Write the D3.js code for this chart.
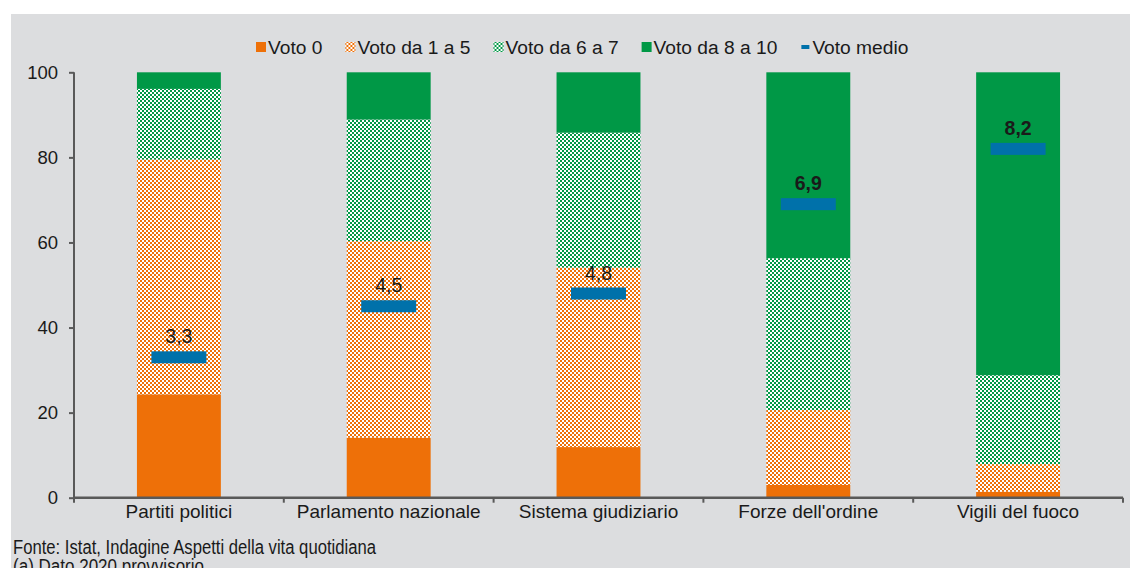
<!DOCTYPE html>
<html>
<head>
<meta charset="utf-8">
<script src="https://cdn.jsdelivr.net/npm/d3@7"></script>
<style>
  html, body { margin: 0; padding: 0; background: #ffffff; }
  svg { display: block; }
  text { font-family: "Liberation Sans", Arial, sans-serif; fill: #1a1a1a; }
</style>
</head>
<body>
<svg id="chart" width="1130" height="568"></svg>
<script>
// Fiducia nelle istituzioni: distribuzione dei voti (%) e voto medio
const categories = ["Partiti politici", "Parlamento nazionale", "Sistema giudiziario", "Forze dell'ordine", "Vigili del fuoco"];
const voto0      = [24.3, 14.1, 11.9, 3.0, 1.4];
const voto1a5    = [55.2, 46.2, 42.2, 17.6, 6.5];
const voto6a7    = [16.6, 28.6, 31.7, 35.7, 20.9];
const voto8a10   = [3.9, 11.1, 14.2, 43.7, 71.2];
const votoMedio  = [3.3, 4.5, 4.8, 6.9, 8.2];
const medioBold  = [false, false, false, true, true];
const yTicks     = [0, 20, 40, 60, 80, 100];
const seriesNames = ["Voto 0", "Voto da 1 a 5", "Voto da 6 a 7", "Voto da 8 a 10", "Voto medio"];
const footnotes  = ["Fonte: Istat, Indagine Aspetti della vita quotidiana", "(a) Dato 2020 provvisorio"];
const footWidths = [363, 191];

const ORANGE = "#ee7008", GREEN = "#009846", BLUE = "#0071aa", AXIS = "#595959";

const svg = d3.select("#chart");

// panel background
svg.append("rect").attr("x", 11).attr("y", 14).attr("width", 1119).attr("height", 554).attr("fill", "#dcdddf");

// checkered fills
const defs = svg.append("defs");
function checker(id, color) {
  const p = defs.append("pattern").attr("id", id).attr("patternUnits", "userSpaceOnUse")
    .attr("width", 4).attr("height", 4);
  p.append("rect").attr("width", 4).attr("height", 4).attr("fill", "#ffffff");
  p.append("rect").attr("x", 0).attr("y", 0).attr("width", 2).attr("height", 2).attr("fill", color);
  p.append("rect").attr("x", 2).attr("y", 2).attr("width", 2).attr("height", 2).attr("fill", color);
}
checker("chkOrange", ORANGE);
checker("chkGreen", GREEN);

const fills = [ORANGE, "url(#chkOrange)", "url(#chkGreen)", GREEN];

const x = d3.scaleBand().domain(categories).range([74, 1123]).paddingInner(0.6).paddingOuter(0.3);
const y = d3.scaleLinear().domain([0, 100]).range([497.7, 72.3]);

// stacked data
const rows = categories.map((c, i) => ({ cat: c, s0: voto0[i], s1: voto1a5[i], s2: voto6a7[i], s3: voto8a10[i] }));
const stack = d3.stack().keys(["s0", "s1", "s2", "s3"])(rows);

const layers = svg.append("g").selectAll("g").data(stack).join("g").attr("fill", (d, i) => fills[i]);
layers.selectAll("rect").data(d => d).join("rect")
  .attr("x", d => x(d.data.cat))
  .attr("width", x.bandwidth())
  .attr("y", d => y(d[1]))
  .attr("height", d => y(d[0]) - y(d[1]));

// y axis
const yAxis = svg.append("g").attr("transform", "translate(74,0)")
  .call(d3.axisLeft(y).tickValues(yTicks).tickSize(5).tickPadding(11).tickFormat(d3.format("d")));
yAxis.select(".domain").attr("stroke", AXIS).attr("stroke-width", 2).attr("d", "M0,72.3V502");
yAxis.selectAll(".tick line").attr("stroke", AXIS).attr("stroke-width", 2);
yAxis.selectAll(".tick text").attr("font-size", 18.5).attr("fill", "#1a1a1a")
  .attr("font-family", "'Liberation Sans', Arial, sans-serif");

// x axis with ticks at category boundaries
const xg = svg.append("g").attr("transform", "translate(0,497.7)");
xg.append("line").attr("x1", 74).attr("x2", 1123).attr("stroke", AXIS).attr("stroke-width", 2.5);
const step = x.step();
const x0 = x(categories[0]) - x.paddingOuter() * step;
xg.selectAll("line.tk").data(d3.range(categories.length + 1)).join("line").attr("class", "tk")
  .attr("x1", i => x0 + i * step).attr("x2", i => x0 + i * step)
  .attr("y1", 0).attr("y2", 5).attr("stroke", AXIS).attr("stroke-width", 2);
xg.selectAll("text").data(categories).join("text")
  .attr("x", d => x(d) + x.bandwidth() / 2).attr("y", 20.5)
  .attr("text-anchor", "middle").attr("font-size", 19).text(d => d);

// voto medio markers (scaled to 0-100)
const mw = 55, mh = 12;
const med = svg.append("g");
med.selectAll("rect").data(categories).join("rect")
  .attr("x", d => x(d) + x.bandwidth() / 2 - mw / 2)
  .attr("y", (d, i) => y(votoMedio[i] * 10) - mh / 2)
  .attr("width", mw).attr("height", mh).attr("fill", BLUE);
med.selectAll("text").data(categories).join("text")
  .attr("x", d => x(d) + x.bandwidth() / 2)
  .attr("y", (d, i) => y(votoMedio[i] * 10) - mh / 2 - 8)
  .attr("text-anchor", "middle").attr("font-size", 19.5)
  .attr("font-weight", (d, i) => medioBold[i] ? "bold" : "normal")
  .text((d, i) => d3.format(".1f")(votoMedio[i]).replace(".", ","));

// legend
const lg = svg.append("g").attr("transform", "translate(0,47)");
const items = lg.selectAll("g").data(seriesNames).join("g");
items.append("text").attr("font-size", 19.2).attr("dy", "0.35em").text(d => d);
let cx = 0;
const pos = [];
items.each(function (d, i) {
  const w = this.querySelector("text").getComputedTextLength();
  pos.push(cx);
  cx += 12 + w + (i < seriesNames.length - 1 ? 23 : 0);
});
const startX = 256 + 11;
items.attr("transform", (d, i) => `translate(${startX + pos[i]},0)`);
items.append("rect")
  .attr("x", (d, i) => i === 4 ? -10 : -11)
  .attr("y", (d, i) => i === 4 ? -2 : -5)
  .attr("width", (d, i) => i === 4 ? 8 : 10)
  .attr("height", (d, i) => i === 4 ? 4 : 10)
  .attr("fill", (d, i) => i === 4 ? BLUE : fills[i]);
items.select("text").attr("x", 1);

// footnotes (condensed)
svg.selectAll("text.fn").data(footnotes).join("text").attr("class", "fn")
  .attr("x", 13).attr("y", (d, i) => 553.5 + i * 19)
  .attr("font-size", 19.5)
  .attr("font-family", "'Liberation Sans Narrow', 'Arial Narrow', 'DejaVu Sans Condensed', sans-serif")
  .attr("textLength", (d, i) => footWidths[i])
  .attr("lengthAdjust", "spacingAndGlyphs")
  .attr("fill", "#2a2a2a")
  .text(d => d);
</script>
</body>
</html>
